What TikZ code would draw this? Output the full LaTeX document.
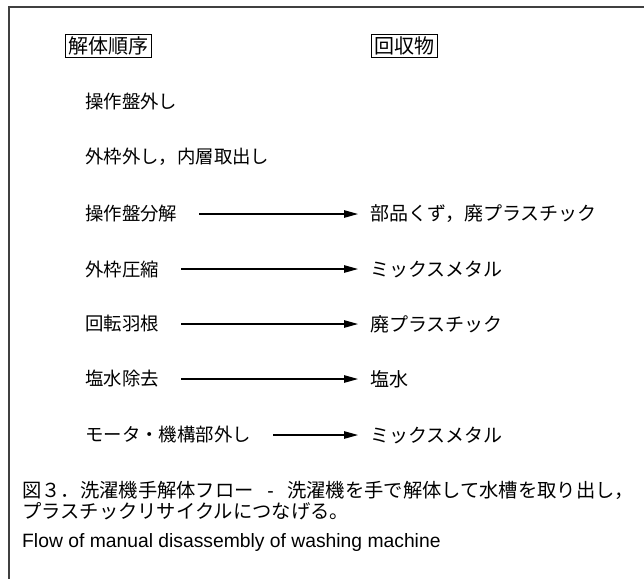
\documentclass[tikz,border=0pt]{standalone}
\usepackage{fontspec}
\setmainfont{Liberation Sans}
\newfontfamily\jp{Noto Sans CJK JP}
\usetikzlibrary{arrows.meta}
\tikzset{
  frameline/.style={line width=1.3pt, draw=black!75},
  hdr/.style={draw, line width=0.9pt, inner xsep=3pt, inner ysep=2pt, font=\jp\fontsize{20}{22}\selectfont},
  lefttxt/.style={anchor=west, inner sep=0pt, font=\jp\fontsize{18.4}{20}\selectfont},
  righttxt/.style={anchor=west, inner sep=0pt, font=\jp\fontsize{19}{20}\selectfont},
  flowarrow/.style={line width=1.1pt, -{Triangle[length=14pt,width=7.5pt]}},
  captxt/.style={anchor=west, inner sep=0pt, font=\jp\fontsize{19.3}{20}\selectfont},
  engtxt/.style={anchor=west, inner sep=0pt, font=\fontsize{19.3}{20}\selectfont}
}
\begin{document}
\begin{tikzpicture}[x=1pt,y=-1pt]
\useasboundingbox (0,0) rectangle (644,579);
\coordinate (tr) at (644,7);
\coordinate (tl) at (9,7);
\coordinate (bl) at (9,579);
\draw[frameline] (tr) -- (tl) -- (bl);
\node[hdr] (h1) at (108,46) {解体順序};
\node[hdr] (h2) at (404,46) {回収物};
\node[lefttxt] (l1) at (85,101) {操作盤外し};
\node[lefttxt] (l2) at (85,157) {外枠外し，内層取出し};
\node[lefttxt] (l3) at (85,214) {操作盤分解};
\node[lefttxt] (l4) at (85,269) {外枠圧縮};
\node[lefttxt] (l5) at (85,324) {回転羽根};
\node[lefttxt] (l6) at (85,379) {塩水除去};
\node[lefttxt] (l7) at (85,435) {モータ・機構部外し};
\node[righttxt] (r3) at (370,214) {部品くず，廃プラスチック};
\node[righttxt] (r4) at (370,269) {ミックスメタル};
\node[righttxt] (r5) at (370,324) {廃プラスチック};
\node[righttxt] (r6) at (370,379) {塩水};
\node[righttxt] (r7) at (370,435) {ミックスメタル};
\foreach \i in {3,...,7}{
  \draw[flowarrow] ([xshift=22pt]l\i.east) -- ([xshift=-12pt]r\i.west);
}
\node[captxt] (c1) at (22,490) {図３．洗濯機手解体フロー\hspace{0.7em}{\rmfamily -}\hspace{0.7em}洗濯機を手で解体して水槽を取り出し，};
\node[captxt] (c2) at (22,511) {プラスチックリサイクルにつなげる。};
\node[engtxt] (c3) at (22,542) {Flow of manual disassembly of washing machine};
\end{tikzpicture}
\end{document}
